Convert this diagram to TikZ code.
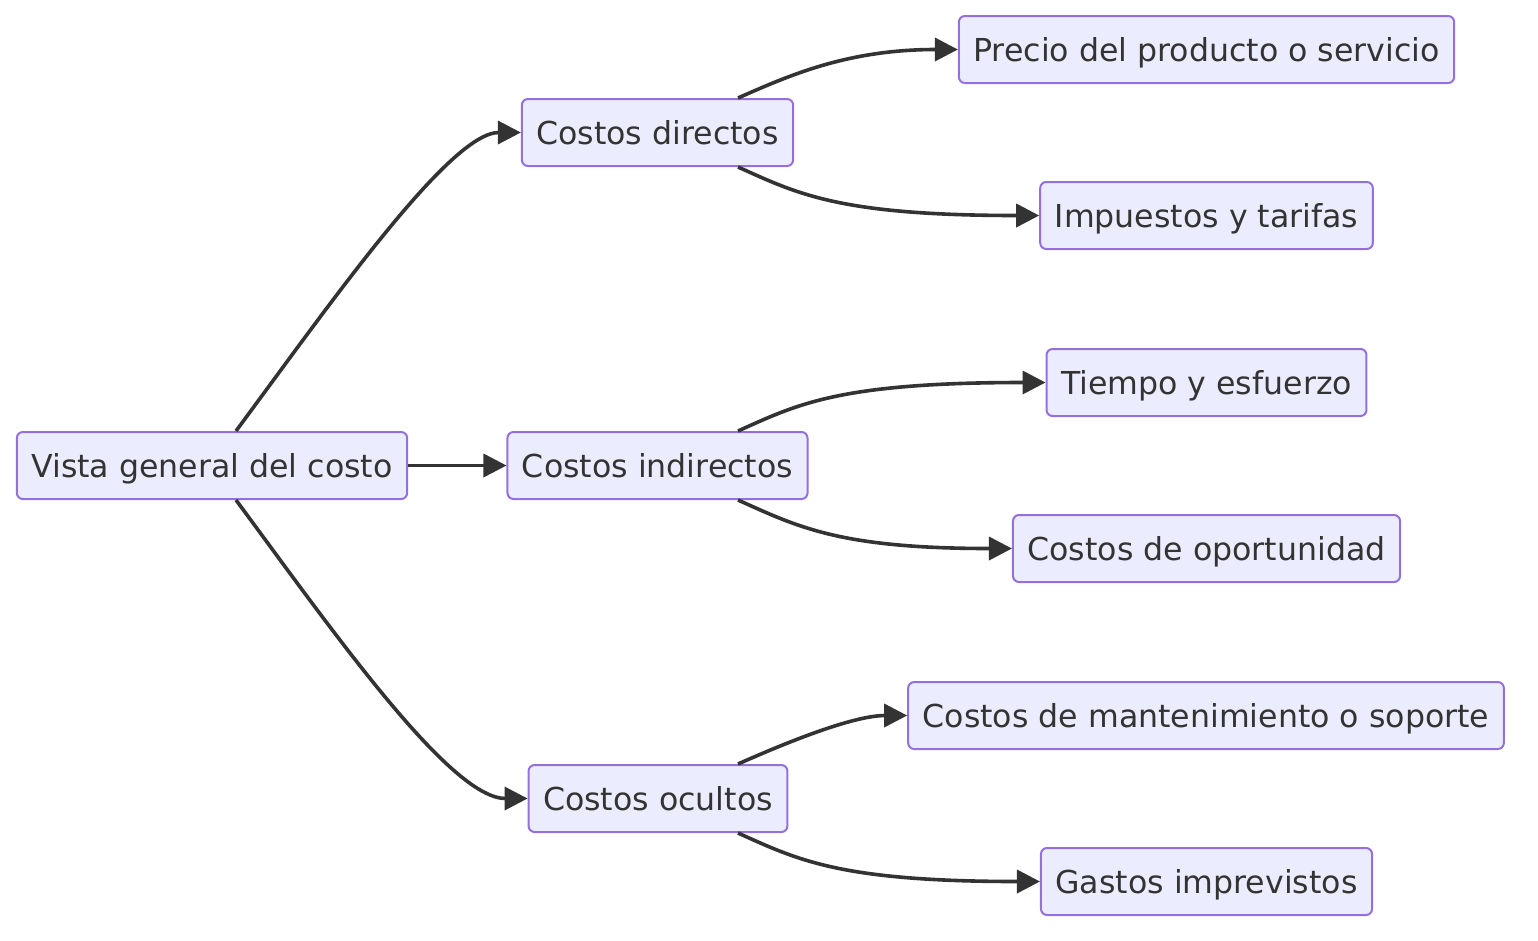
\documentclass[tikz,border=0pt]{standalone}
\usepackage{fontspec}
\setmainfont{DejaVu Sans}
\usetikzlibrary{arrows.meta}
\definecolor{boxfill}{HTML}{ECECFF}
\definecolor{boxline}{HTML}{9370DB}
\definecolor{ink}{HTML}{333333}
\begin{document}
\begin{tikzpicture}[x=1pt,y=-1pt,
  box/.style={draw=boxline,fill=boxfill,line width=2pt,rounded corners=6pt,
    text=ink,font=\fontsize{31.6}{38}\selectfont,inner xsep=14.5pt,inner ysep=0pt,
    text height=23pt,text depth=0pt,
    minimum height=67pt,anchor=center},
  conn/.style={draw=ink,line width=3.6pt,-{Triangle[length=23pt,width=23pt]}}]
\useasboundingbox (0,0) rectangle (1538,940);
\node[box] (v) at (212,465.5) {Vista general del costo};
\node[box] (d) at (657.5,132.5) {Costos directos};
\node[box] (i) at (657.5,465.5) {Costos indirectos};
\node[box] (o) at (658,798.5) {Costos ocultos};
\node[box] (p) at (1206.5,49.5) {Precio del producto o servicio};
\node[box] (im) at (1206.5,215.5) {Impuestos y tarifas};
\node[box] (t) at (1206.5,382.5) {Tiempo y esfuerzo};
\node[box] (op) at (1206.5,548.5) {Costos de oportunidad};
\node[box] (m) at (1206,715.5) {Costos de mantenimiento o soporte};
\node[box] (g) at (1206.5,881.5) {Gastos imprevistos};
\draw[conn] ([xshift=24pt]v.north) .. controls +(94,-127) and +(-71,0) .. (d.west);
\draw[conn] (v.east) -- (i.west);
\draw[conn] ([xshift=24pt]v.south) .. controls +(94,127) and +(-78,0) .. (o.west);
\draw[conn] ([xshift=80.5pt]d.north) .. controls +(52,-23) and +(-110,0) .. (p.west);
\draw[conn] ([xshift=80.5pt]d.south) .. controls +(60,27) and +(-200,0) .. (im.west);
\draw[conn] ([xshift=80.5pt]i.north) .. controls +(60,-27) and +(-206,0) .. (t.west);
\draw[conn] ([xshift=80.5pt]i.south) .. controls +(60,27) and +(-172,0) .. (op.west);
\draw[conn] ([xshift=80pt]o.north) .. controls +(45,-20) and +(-55,0) .. (m.west);
\draw[conn] ([xshift=80pt]o.south) .. controls +(60,27) and +(-200,0) .. (g.west);
\end{tikzpicture}
\end{document}
